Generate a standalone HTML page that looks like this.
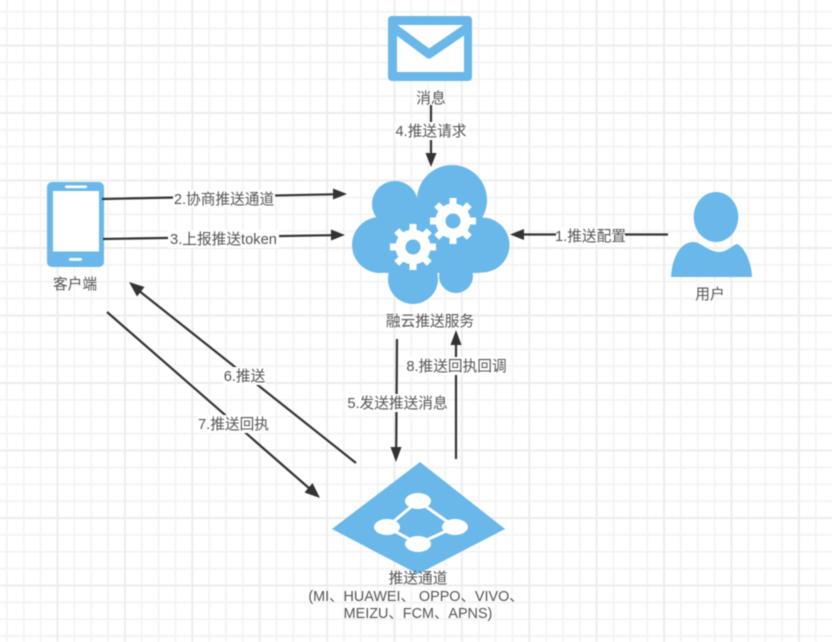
<!DOCTYPE html>
<html><head><meta charset="utf-8"><style>
html,body{margin:0;padding:0;background:#fff;width:832px;height:642px;overflow:hidden}
svg{display:block;filter:blur(.45px)}
text{font-family:"Liberation Sans","Noto Sans CJK SC",sans-serif;font-size:14.7px;fill:#555;text-anchor:middle}
</style></head><body>
<svg width="832" height="642" viewBox="0 0 832 642" xmlns="http://www.w3.org/2000/svg">
<rect width="832" height="642" fill="#fff"/>
<!-- minor grid -->
<path fill="none" stroke="#f3f3f3" stroke-width="1.7" d="M6.95 0V642M23.8 0V642M40.65 0V642M74.35 0V642M91.2 0V642M108.05 0V642M141.75 0V642M158.6 0V642M175.45 0V642M209.15 0V642M226 0V642M242.85 0V642M276.55 0V642M293.4 0V642M310.25 0V642M343.95 0V642M360.8 0V642M377.65 0V642M411.35 0V642M428.2 0V642M445.05 0V642M478.75 0V642M495.6 0V642M512.45 0V642M546.15 0V642M563 0V642M579.85 0V642M613.55 0V642M630.4 0V642M647.25 0V642M680.95 0V642M697.8 0V642M714.65 0V642M748.35 0V642M765.2 0V642M782.05 0V642M815.75 0V642
M0 11.75H832M0 28.6H832M0 62.4H832M0 79.25H832M0 96.1H832M0 129.9H832M0 146.75H832M0 163.6H832M0 197.4H832M0 214.25H832M0 231.1H832M0 264.9H832M0 281.75H832M0 298.6H832M0 332.4H832M0 349.25H832M0 366.1H832M0 399.9H832M0 416.75H832M0 433.6H832M0 467.4H832M0 484.25H832M0 501.1H832M0 534.9H832M0 551.75H832M0 568.6H832M0 602.4H832M0 619.25H832M0 636.1H832"/>
<!-- major grid -->
<path fill="none" stroke="#ededed" stroke-width="2" d="M57.5 0V642M124.9 0V642M192.3 0V642M259.7 0V642M327.1 0V642M394.5 0V642M461.9 0V642M529.3 0V642M596.7 0V642M664.1 0V642M731.5 0V642M798.9 0V642
M0 45.5H832M0 113H832M0 180.5H832M0 248H832M0 315.5H832M0 383H832M0 450.5H832M0 518H832M0 585.5H832"/>

<!-- mail -->
<rect x="388" y="16" width="84" height="65" rx="4" fill="#6ab8e9"/>
<rect x="397" y="25" width="67" height="47" fill="#fff"/>
<path d="M394 28 L429 54 L467 28" fill="none" stroke="#6ab8e9" stroke-width="9" stroke-linejoin="round"/>
<rect x="388" y="16" width="84" height="9" rx="4" fill="#6ab8e9"/>
<text x="431" y="103">消息</text>

<!-- cloud -->
<g fill="#6ab8e9">
<circle cx="452" cy="200" r="35"/>
<circle cx="395" cy="204" r="23"/>
<circle cx="380" cy="245" r="28"/>
<circle cx="482" cy="245" r="27.5"/>
<circle cx="413" cy="279" r="25"/>
<circle cx="456" cy="276" r="17"/>
<rect x="385" y="205" width="95" height="68"/>
</g>
<g fill="none" stroke="#fff">
<g transform="translate(413,247)">
<circle r="12.5" stroke-width="10"/>
<path stroke-width="7" d="M0-23V-16M0 23V16M-23 0H-16M23 0H16M-16.3-16.3L-11-11M16.3 16.3L11 11M-16.3 16.3L-11 11M16.3-16.3L11-11"/>
</g>
<g transform="translate(453,221)">
<circle r="12.5" stroke-width="10"/>
<path stroke-width="7" d="M0-23V-16M0 23V16M-23 0H-16M23 0H16M-16.3-16.3L-11-11M16.3 16.3L11 11M-16.3 16.3L-11 11M16.3-16.3L11-11"/>
</g>
</g>
<text x="430" y="326">融云推送服务</text>

<!-- phone -->
<rect x="47" y="182" width="57" height="85" rx="5" fill="#6ab8e9"/>
<rect x="53" y="191" width="46" height="60.5" fill="#fff"/>
<rect x="65" y="185.5" width="22" height="2.6" rx="1.3" fill="#fff"/>
<rect x="69" y="258" width="13" height="2.8" rx="1.4" fill="#fff"/>
<text x="75" y="289">客户端</text>

<!-- user -->
<ellipse cx="716" cy="217" rx="22.3" ry="25" fill="#6ab8e9"/>
<path d="M671 277 C672 258 680 243 692 242 C700 241 708 252 719 252 C727 252 733 245 737 244 C745 247 752 265 752 277Z" fill="#6ab8e9"/>
<text x="710" y="299">用户</text>

<!-- diamond -->
<polygon points="332,529 420,462 505,529 418,574" fill="#6ab8e9"/>
<path d="M418 501L387 527L418 544L455 527Z" fill="none" stroke="#fff" stroke-width="3"/>
<g fill="#fff">
<ellipse cx="418" cy="501" rx="13" ry="8"/>
<ellipse cx="387" cy="527" rx="13" ry="8"/>
<ellipse cx="455" cy="527" rx="13" ry="8"/>
<ellipse cx="418" cy="544" rx="13" ry="8"/>
</g>
<text x="418" y="583">推送通道</text>
<text x="416" y="601" style="font-size:14.4px">(MI、HUAWEI、 OPPO、VIVO、</text>
<text x="418" y="618" style="font-size:14.4px">MEIZU、FCM、APNS)</text>

<!-- arrows -->
<g stroke="#333" stroke-width="2.2" fill="none">
<path d="M102 199L334 194.3"/>
<path d="M103 239L333 235.2"/>
<path d="M668 234.5H522"/>
<path d="M431 105V154"/>
<path d="M356 463L138 290"/>
<path d="M107 312L310 489"/>
<path d="M397 339L396.2 450"/>
<path d="M456 459V342"/>
</g>
<g fill="#333">
<polygon points="347,194 333,188.5 333,199.5"/>
<polygon points="345,235 331,229.5 331,240.5"/>
<polygon points="510,234.5 524,229 524,240"/>
<polygon points="431,167 425.5,153 436.5,153"/>
<polygon points="129,282 144.5,287 137,296.5"/>
<polygon points="320,498 304.5,492.5 312.5,483"/>
<polygon points="396,462 390.5,447 401.5,447"/>
<polygon points="456,330 450.5,345 461.5,345"/>
</g>

<!-- labels -->
<g fill="#fff">
<rect x="173" y="190" width="102" height="18"/>
<rect x="168" y="230" width="111" height="18"/>
<rect x="556" y="227" width="69" height="18"/>
<rect x="395" y="122" width="72" height="18"/>
<rect x="223" y="367" width="43" height="18"/>
<rect x="198" y="415" width="71" height="18"/>
<rect x="347" y="394" width="101" height="18"/>
<rect x="406" y="357" width="101" height="18"/>
</g>
<text x="224" y="204">2.协商推送通道</text>
<text x="223.5" y="244">3.上报推送token</text>
<text x="590.5" y="241">1.推送配置</text>
<text x="431" y="136">4.推送请求</text>
<text x="244.5" y="381">6.推送</text>
<text x="233.5" y="429">7.推送回执</text>
<text x="397.5" y="408">5.发送推送消息</text>
<text x="456.5" y="371">8.推送回执回调</text>
</svg>
</body></html>
